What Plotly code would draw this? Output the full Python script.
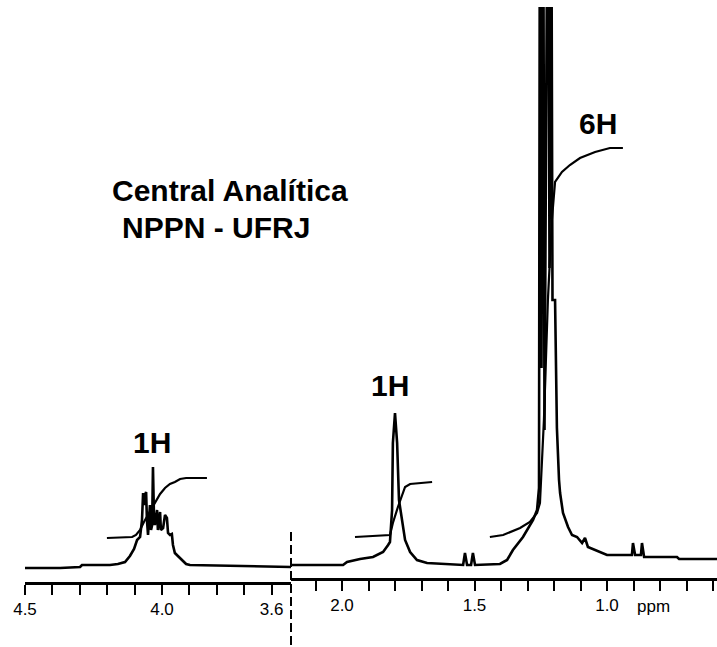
import plotly.graph_objects as go

# ---------------- data (ppm, arbitrary intensity) ----------------
# left axis segment 4.5 .. 3.53 ppm
left_ppm = [4.500, 4.372, 4.299, 4.292, 4.190, 4.161, 4.135, 4.117, 4.102, 4.091,
            4.080, 4.073, 4.069, 4.066, 4.062, 4.058, 4.055, 4.051, 4.044, 4.040,
            4.036, 4.033, 4.029, 4.026, 4.018, 4.015, 4.007, 4.004, 3.996, 3.989,
            3.982, 3.978, 3.971, 3.964, 3.960, 3.953, 3.942, 3.927, 3.912, 3.898,
            3.752, 3.529]
left_int = [0, 0, 1, 3, 3, 4, 6, 12, 19, 28,
            31, 48, 75, 63, 73, 76, 48, 33, 63, 38,
            43, 101, 48, 43, 58, 38, 56, 38, 40, 53,
            50, 35, 33, 34, 23, 15, 12, 8, 4, 3,
            2, 1]

left_integral_ppm = [4.201, 4.109, 4.095, 4.080, 4.066, 4.051, 4.036, 4.022, 4.007,
                     3.989, 3.971, 3.953, 3.934, 3.912, 3.836]
left_integral_val = [30, 31, 33, 38, 46, 53, 61, 68, 74, 80, 84, 86, 89, 90, 90]

# right axis segment 2.19 .. 0.58 ppm
right_ppm = [2.192, 1.996, 1.981, 1.932, 1.883, 1.845, 1.826, 1.819, 1.811, 1.808,
             1.800, 1.792, 1.785, 1.774, 1.762, 1.743, 1.717, 1.679, 1.543, 1.536,
             1.528, 1.513, 1.506, 1.498, 1.404, 1.377, 1.355, 1.317, 1.279, 1.264,
             1.2566, 1.2528, 1.2472, 1.2415, 1.2358, 1.2226, 1.2170, 1.2113, 1.2057, 1.196,
             1.189, 1.181, 1.177, 1.166, 1.147, 1.132, 1.113, 1.094, 1.083, 1.072,
             1.026, 1.000, 0.906, 0.902, 0.894, 0.872, 0.868, 0.860, 0.736, 0.728,
             0.585]
right_int = [3, 3, 6, 9, 11, 16, 23, 26, 58, 125,
             155, 125, 68, 48, 28, 16, 8, 5, 3, 15,
             3, 3, 15, 3, 4, 8, 18, 31, 48, 58,
             80, 800, 200, 800, 138, 800, 300, 800, 268, 268,
             140, 88, 75, 55, 41, 33, 31, 25, 30, 21,
             16, 13, 13, 25, 13, 13, 25, 11, 11, 9,
             9]

mid_integral_ppm = [1.951, 1.819, 1.808, 1.789, 1.762, 1.743, 1.660]
mid_integral_val = [31, 33, 45, 61, 81, 84, 86]

big_integral_ppm = [1.442, 1.392, 1.328, 1.291, 1.264, 1.253, 1.238, 1.223, 1.208,
                    1.196, 1.170, 1.140, 1.102, 1.045, 0.989, 0.940]
big_integral_val = [31, 33, 40, 46, 55, 65, 148, 268, 348,
                    386, 396, 403, 410, 416, 420, 420]

left_ticks = [4.5, 4.4, 4.3, 4.2, 4.1, 4.0, 3.9, 3.8, 3.7, 3.6]
left_ticktext = ["4.5", "", "", "", "", "4.0", "", "", "", "3.6"]
right_ticks = [2.1, 2.0, 1.9, 1.8, 1.7, 1.6, 1.5, 1.4, 1.3, 1.2, 1.1, 1.0, 0.9, 0.8, 0.7, 0.6]
right_ticktext = ["", "2.0", "", "", "", "", "1.5", "", "", "", "", "1.0", "", "", "", ""]

labels = ["1H", "1H", "6H"]
label_ppm = [4.037, 1.819, 1.034]
label_int = [126, 183, 445]

# ---------------- figure ----------------
W, H = 717, 647
ML, MR, MT, MB = 25, 0, 7, 65
pw = W - ML - MR
ph = H - MT - MB
split = (291 - ML) / pw

black = "#000000"
fig = go.Figure()
fig.add_trace(go.Scatter(x=left_ppm, y=left_int, mode="lines", xaxis="x", yaxis="y",
                         line=dict(color=black, width=2.6), hoverinfo="skip"))
fig.add_trace(go.Scatter(x=left_integral_ppm, y=left_integral_val, mode="lines", xaxis="x", yaxis="y",
                         line=dict(color=black, width=2.2), hoverinfo="skip"))
fig.add_trace(go.Scatter(x=right_ppm, y=right_int, mode="lines", xaxis="x2", yaxis="y2",
                         line=dict(color=black, width=2.6), hoverinfo="skip"))
fig.add_trace(go.Scatter(x=mid_integral_ppm, y=mid_integral_val, mode="lines", xaxis="x2", yaxis="y2",
                         line=dict(color=black, width=2.2), hoverinfo="skip"))
fig.add_trace(go.Scatter(x=big_integral_ppm, y=big_integral_val, mode="lines", xaxis="x2", yaxis="y2",
                         line=dict(color=black, width=2.2), hoverinfo="skip"))

tickfont = dict(family="Liberation Sans", size=17, color=black)
axis_common = dict(showline=True, linecolor=black, linewidth=2.5, ticks="outside",
                   ticklen=10, tickwidth=2, tickcolor=black, showgrid=False, zeroline=False,
                   tickfont=tickfont, tickmode="array", fixedrange=True)

fig.update_layout(
    width=W, height=H,
    margin=dict(l=ML, r=MR, t=MT, b=MB),
    paper_bgcolor="white", plot_bgcolor="white",
    showlegend=False,
    xaxis=dict(domain=[0, split], range=[4.5, 4.5 - 266 / 274], anchor="y",
               tickvals=left_ticks, ticktext=left_ticktext, **axis_common),
    xaxis2=dict(domain=[split, 1], range=[2 + 51 / 265, 2 - 375 / 265], anchor="y2",
                tickvals=right_ticks, ticktext=right_ticktext, **axis_common),
    yaxis=dict(domain=[0, 1], range=[-14, 561], visible=False, fixedrange=True),
    yaxis2=dict(domain=[4 / ph, 1], range=[-10, 561], visible=False, fixedrange=True),
)

bold = dict(family="Liberation Sans", size=30, color=black)
fig.add_annotation(x=label_ppm[0], y=label_int[0], xref="x", yref="y", text="<b>" + labels[0] + "</b>",
                   showarrow=False, font=bold, xanchor="center", yanchor="middle")
fig.add_annotation(x=label_ppm[1], y=label_int[1], xref="x2", yref="y2", text="<b>" + labels[1] + "</b>",
                   showarrow=False, font=bold, xanchor="center", yanchor="middle")
fig.add_annotation(x=label_ppm[2], y=label_int[2], xref="x2", yref="y2", text="<b>" + labels[2] + "</b>",
                   showarrow=False, font=bold, xanchor="center", yanchor="middle")

def px(xp):
    return (xp - ML) / pw

def py(yp):
    return (H - MB - yp) / ph

fig.add_annotation(x=px(110), y=py(191), xref="paper", yref="paper", text="<b>Central Analítica</b>",
                   showarrow=False, font=bold, xanchor="left", yanchor="middle")
fig.add_annotation(x=px(120), y=py(227), xref="paper", yref="paper", text="<b>NPPN - UFRJ</b>",
                   showarrow=False, font=bold, xanchor="left", yanchor="middle")
fig.add_annotation(x=px(653), y=py(606), xref="paper", yref="paper", text="ppm",
                   showarrow=False, font=tickfont, xanchor="center", yanchor="middle")

# axis break marker
fig.add_shape(type="line", xref="paper", yref="paper", x0=split, x1=split,
              y0=py(645), y1=py(528), line=dict(color=black, width=2, dash="9px,4px"))

fig.write_html("out.html")
